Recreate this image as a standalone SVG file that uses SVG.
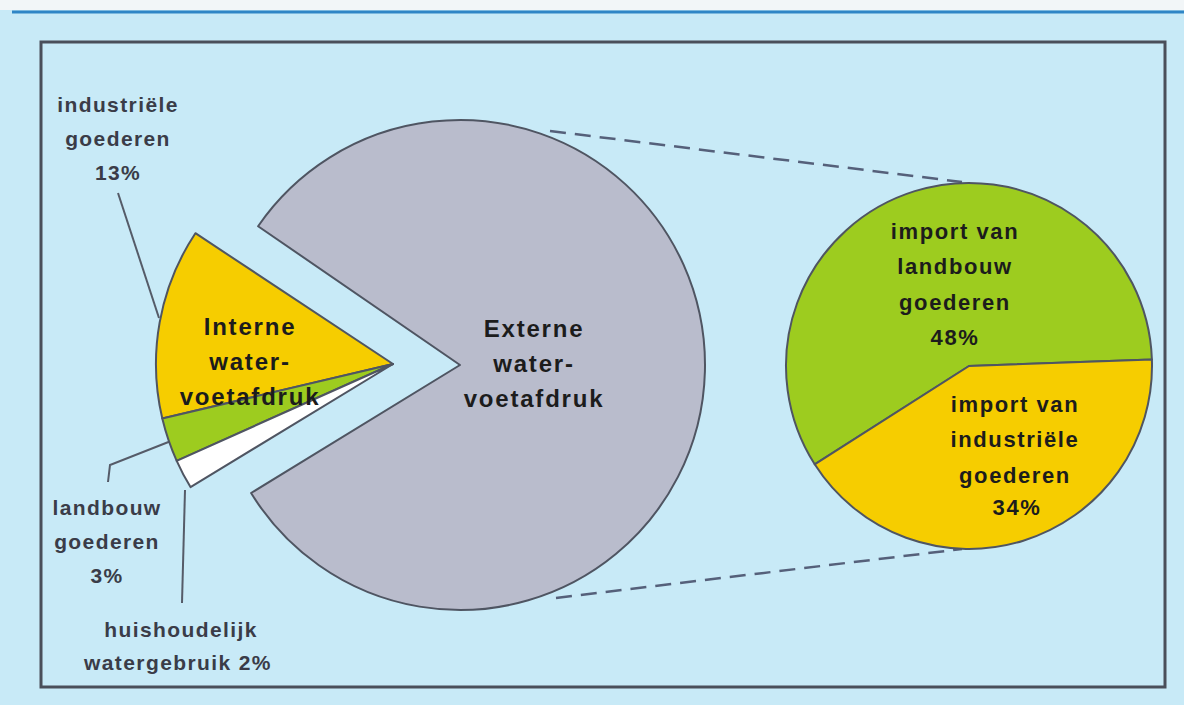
<svg xmlns="http://www.w3.org/2000/svg" width="1184" height="705" viewBox="0 0 1184 705">
<style>
.slice{stroke:#4f5562;stroke-width:2;stroke-linejoin:round}
.lbl{font-family:"Liberation Sans",Arial,sans-serif;font-weight:bold;font-size:24px;letter-spacing:1.8px;fill:#1c1c1c;text-anchor:middle}
.sm{font-size:22px;letter-spacing:1.6px}
.out{font-family:"Liberation Sans",Arial,sans-serif;font-weight:bold;font-size:21px;letter-spacing:1.4px;fill:#3a3c48;text-anchor:middle}
.lead{fill:none;stroke:#555b68;stroke-width:2}
.dash{fill:none;stroke:#55607a;stroke-width:2.5;stroke-dasharray:16 9}
</style>
<rect x="0" y="0" width="1184" height="705" fill="#c8eaf7"/>
<rect x="0" y="0" width="1184" height="10" fill="#f2f6f8"/>
<line x1="12" y1="12" x2="1184" y2="12" stroke="#2f86c6" stroke-width="3"/>
<rect x="41" y="42" width="1124" height="645" fill="none" stroke="#4a4f5a" stroke-width="3"/>

<g id="connectors">
  <line class="dash" x1="550" y1="131" x2="962" y2="182"/>
  <line class="dash" x1="556" y1="598" x2="962" y2="549"/>
  <polyline class="lead" points="118,193 159,318"/>
  <polyline class="lead" points="108,482 110,465 171,441"/>
  <polyline class="lead" points="185,490 182,603"/>
</g>

<g id="externe">
  <path class="slice" fill="#b9bccc" d="M460,365 L258.1,226.2 A245,245 0 1 1 251.1,493 Z"/>
  <text class="lbl" x="534" y="337">Externe</text>
  <text class="lbl" x="534" y="372">water-</text>
  <text class="lbl" x="534" y="407">voetafdruk</text>
</g>

<g id="interne">
  <path class="slice" fill="#f6cd00" d="M393,364 L195.4,233.2 A237,237 0 0 0 162.3,418.5 Z"/>
  <path class="slice" fill="#9dcc1f" d="M393,364 L162.3,418.5 A237,237 0 0 0 176.7,460.8 Z"/>
  <path class="slice" fill="#ffffff" d="M393,364 L176.7,460.8 A237,237 0 0 0 190.5,487.1 Z"/>
  <text class="lbl" x="250" y="335">Interne</text>
  <text class="lbl" x="250" y="370">water-</text>
  <text class="lbl" x="250" y="405">voetafdruk</text>
</g>

<g id="import-pie">
  <path class="slice" fill="#9dcc1f" d="M969,366 L814.7,464.3 A183,183 0 1 1 1151.9,359.6 Z"/>
  <path class="slice" fill="#f6cd00" d="M969,366 L1151.9,359.6 A183,183 0 0 1 814.7,464.3 Z"/>
  <text class="lbl sm" x="955" y="239">import van</text>
  <text class="lbl sm" x="955" y="274">landbouw</text>
  <text class="lbl sm" x="955" y="310">goederen</text>
  <text class="lbl sm" x="955" y="345">48%</text>
  <text class="lbl sm" x="1015" y="412">import van</text>
  <text class="lbl sm" x="1015" y="447">industriële</text>
  <text class="lbl sm" x="1015" y="483">goederen</text>
  <text class="lbl sm" x="1017" y="515">34%</text>
</g>

<g id="label-industrie">
  <text class="out" x="118" y="112">industriële</text>
  <text class="out" x="118" y="146">goederen</text>
  <text class="out" x="118" y="180">13%</text>
</g>
<g id="label-landbouw">
  <text class="out" x="107" y="515">landbouw</text>
  <text class="out" x="107" y="549">goederen</text>
  <text class="out" x="107" y="583">3%</text>
</g>
<g id="label-huishoudelijk">
  <text class="out" x="181" y="637">huishoudelijk</text>
  <text class="out" x="178" y="670">watergebruik 2%</text>
</g>
</svg>
